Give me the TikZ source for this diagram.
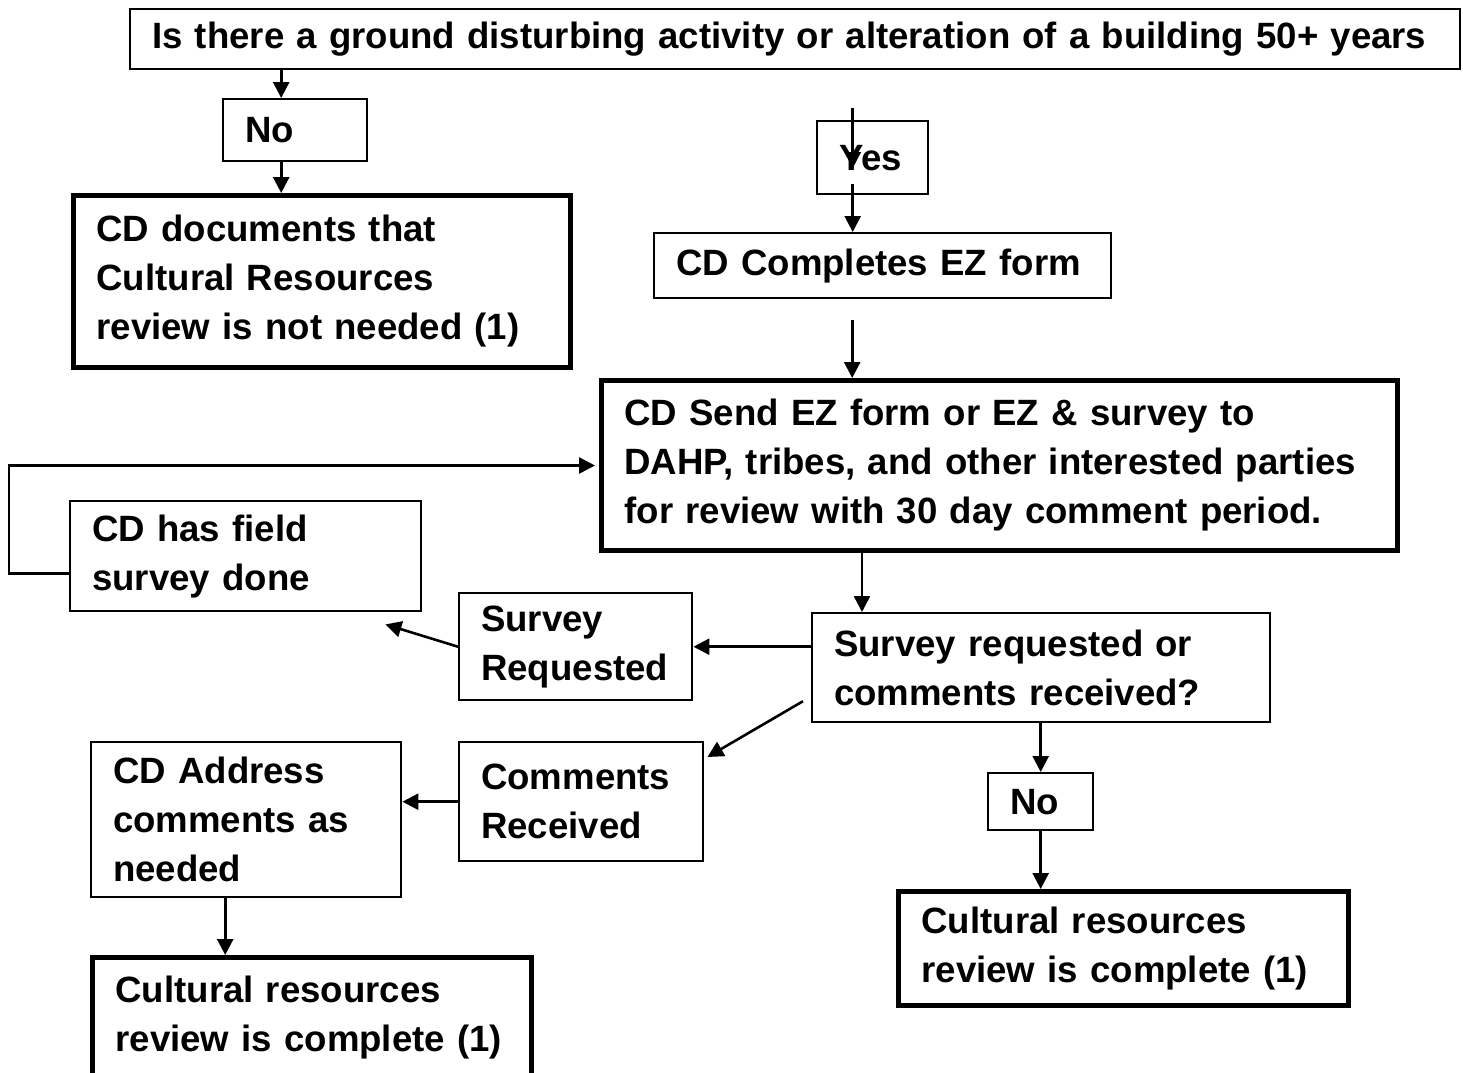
\documentclass[tikz,border=0pt]{standalone}
\usepackage{fontspec}
\setmainfont{Liberation Sans}
\usetikzlibrary{arrows.meta}
\begin{document}
\begin{tikzpicture}[x=0.5pt,y=-0.5pt,
    box/.style={draw, line width=1.2pt, anchor=north west, align=left,
      inner xsep=11pt, inner ysep=0pt,
      font=\fontsize{18.3pt}{24.5pt}\selectfont\bfseries},
    thickbox/.style={box, line width=2.5pt, inner xsep=11.5pt},
    arr/.style={-{Triangle[length=8pt,width=8pt]}, line width=1.3pt}]
    \useasboundingbox (0,0) rectangle (1463,1072);

    % Question at the top
    \node[box, text width=643pt, minimum height=30pt] (top) at (129,8)
      {\mbox{Is there a ground disturbing activity or alteration of a building 50+ years}};

    % No branch
    \node[box, text width=50pt, minimum height=31pt] (no1) at (222,98) {No};
    \node[thickbox, text width=225.5pt, minimum height=86pt] (cddoc) at (71,193)
      {CD documents that\\Cultural Resources\\review is not needed (1)};

    % Yes branch
    \node[box, text width=33.5pt, minimum height=36.5pt] (yes) at (816,120) {Yes};
    \node[box, text width=206.5pt, minimum height=32.5pt] (ez) at (653,232) {CD Completes EZ form};
    \node[thickbox, text width=375pt, minimum height=85pt] (send) at (599,378)
      {CD Send EZ form or EZ \& survey to\\DAHP, tribes, and other interested parties\\for review with 30 day comment period.};
    \node[box, text width=153.5pt, minimum height=55pt] (field) at (69,500)
      {CD has field\\survey done};
    \node[box, text width=94.5pt, minimum height=53.5pt] (survreq) at (458,592)
      {Survey\\Requested};
    \node[box, text width=207pt, minimum height=54.5pt] (question) at (811,612)
      {Survey requested or\\comments received?};
    \node[box, text width=100pt, minimum height=59.5pt] (comments) at (458,741)
      {Comments\\Received};
    \node[box, text width=133pt, minimum height=77.5pt] (address) at (90,741)
      {CD Address\\comments as\\needed};
    \node[thickbox, text width=196.5pt, minimum height=60.5pt] (cultl) at (90,955)
      {Cultural resources\\review is complete (1)};
    \node[box, text width=30.5pt, minimum height=28.5pt] (no2) at (987,772) {No};
    \node[thickbox, text width=202pt, minimum height=57pt] (cultr) at (896,889)
      {Cultural resources\\review is complete (1)};

    % Arrows
    \draw[arr] ([xshift=-7pt]no1.north |- top.south) -- ([xshift=-7pt]no1.north);
    \draw[arr] ([xshift=-7pt]no1.south) -- ([xshift=-7pt]no1.south |- cddoc.north);
    \draw[arr] ([xshift=-10pt,yshift=6pt]yes.north) -- ([xshift=-10pt,yshift=-5.25pt]yes.center);
    \draw[arr] ([xshift=-10pt,yshift=5.5pt]yes.south) -- ([xshift=-10pt]yes.south |- ez.north);
    \draw[arr] ([xshift=-15.25pt,yshift=-10.5pt]ez.south) -- ([xshift=-15.25pt]ez.south |- send.north);
    \draw[arr] ([xshift=25.5pt]question.north west |- send.south) -- ([xshift=25.5pt]question.north west);
    \draw[arr] (question.west |- survreq.east) -- (survreq.east);
    \draw[arr] (survreq.west) -- ([xshift=-18.5pt,yshift=-6pt]field.south east);
    \draw[arr, shorten >=2pt] ([yshift=-8.5pt]field.west) -- ++(-60,0) |- (send.west);
    \draw[arr] ([xshift=-4pt,yshift=-16.75pt]question.west) -- ([xshift=1.5pt,yshift=-8pt]comments.north east);
    \draw[arr] (comments.west) -- (comments.west -| address.east);
    \draw[arr] ([xshift=-10.5pt]address.south) -- ([xshift=-10.5pt]address.south |- cultl.north);
    \draw[arr] (no2.north |- question.south) -- (no2.north);
    \draw[arr] (no2.south) -- (no2.south |- cultr.north);
\end{tikzpicture}
\end{document}
